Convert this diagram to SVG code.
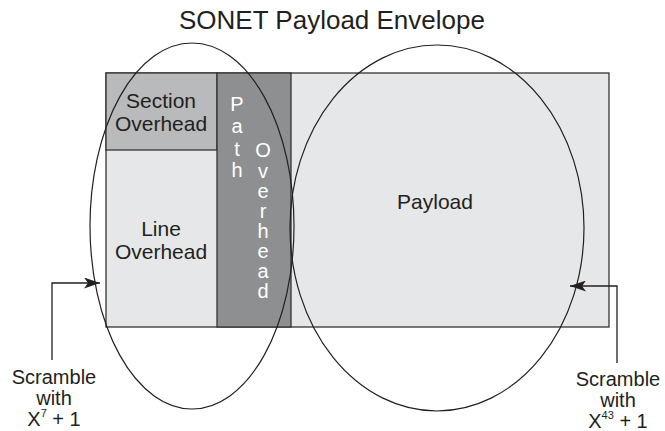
<svg xmlns="http://www.w3.org/2000/svg" width="665" height="431" viewBox="0 0 665 431">
<defs>
<style>
text{font-family:"Liberation Sans",Arial,sans-serif;fill:#231f20;font-size:21px}
.c{text-anchor:middle}
.w{fill:#ffffff;text-anchor:middle;font-size:20px}
.lb{font-size:20px;text-anchor:middle}
.box{stroke:#333;stroke-width:1.3}
.ell{fill:none;stroke:#231f20;stroke-width:1.2}
.ln{fill:none;stroke:#231f20;stroke-width:1.3}
.sup{font-size:11px}
</style>
<marker id="ah" viewBox="0 0 16 11" refX="16" refY="5.5" markerWidth="16" markerHeight="11" markerUnits="userSpaceOnUse" orient="auto">
<path d="M0,0 L16,5.5 L0,11 L4,5.5 Z" fill="#231f20"/>
</marker>
</defs>
<rect width="665" height="431" fill="#fff"/>
<text class="c" x="332" y="29" style="font-size:26px">SONET Payload Envelope</text>
<g id="envelope">
<rect class="box" x="106" y="73" width="503" height="254" fill="#e6e7e8"/>
</g>
<g id="section-overhead">
<rect class="box" x="106" y="73" width="111" height="77" fill="#b9babc"/>
<text class="c" x="161" y="108">Section</text>
<text class="c" x="161" y="131">Overhead</text>
</g>
<g id="line-overhead">
<text class="c" x="161" y="236">Line</text>
<text class="c" x="161" y="259">Overhead</text>
</g>
<g id="path-overhead">
<rect class="box" x="217" y="73" width="74" height="254" fill="#8e8f91"/>
<text class="w" x="237" y="111">P</text>
<text class="w" x="237" y="133">a</text>
<text class="w" x="237" y="156">t</text>
<text class="w" x="237" y="177">h</text>
<text class="w" x="263" y="157">O</text>
<text class="w" x="263" y="178">v</text>
<text class="w" x="263" y="198">e</text>
<text class="w" x="263" y="218">r</text>
<text class="w" x="263" y="238">h</text>
<text class="w" x="263" y="258">e</text>
<text class="w" x="263" y="278">a</text>
<text class="w" x="263" y="298">d</text>
</g>
<g id="payload">
<text class="c" x="435" y="209">Payload</text>
</g>
<g id="scramble-left-ellipse">
<ellipse class="ell" cx="192" cy="226" rx="102" ry="183"/>
</g>
<g id="scramble-right-ellipse">
<ellipse class="ell" cx="437" cy="228" rx="147" ry="183"/>
</g>
<g id="connectors">
<polyline class="ln" points="52,360 52,283 100,283" marker-end="url(#ah)"/>
<polyline class="ln" points="617,363 617,286 570,286" marker-end="url(#ah)"/>
</g>
<g id="label-left">
<text class="lb" x="54" y="384">Scramble</text>
<text class="lb" x="54" y="405">with</text>
<text class="lb" x="54" y="426">X<tspan class="sup" dy="-9">7</tspan><tspan dy="9"> + 1</tspan></text>
</g>
<g id="label-right">
<text class="lb" x="618" y="386">Scramble</text>
<text class="lb" x="618" y="407">with</text>
<text class="lb" x="618" y="428">X<tspan class="sup" dy="-9">43</tspan><tspan dy="9"> + 1</tspan></text>
</g>
</svg>
